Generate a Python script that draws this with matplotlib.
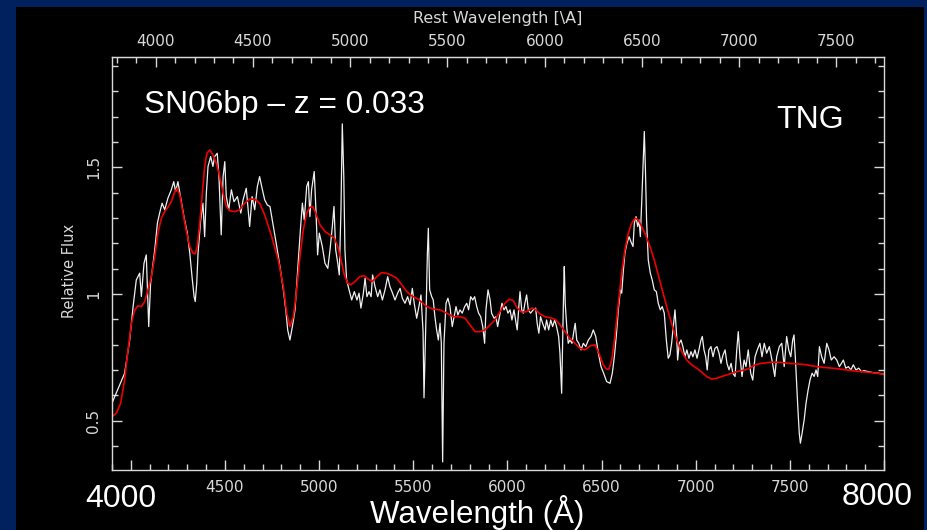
import matplotlib.pyplot as plt
from matplotlib.patches import Rectangle
from matplotlib.ticker import MultipleLocator, FixedLocator, FuncFormatter

z = 0.033

# observed spectrum (white)
obs_wave = [3900, 3967, 3994, 4012, 4029, 4047, 4056, 4070, 4082, 4095, 4105, 4127, 4141, 4153, 4166, 4180,
            4197, 4215, 4228, 4238, 4250, 4265, 4282, 4300, 4313, 4325, 4336, 4342, 4350, 4357, 4371, 4383,
            4392, 4401, 4410, 4424, 4436, 4445, 4459, 4468, 4480, 4490, 4499, 4507, 4520, 4534, 4548, 4566,
            4584, 4596, 4613, 4631, 4644, 4658, 4672, 4684, 4697, 4711, 4725, 4739, 4757, 4775, 4792, 4810,
            4823, 4833, 4845, 4858, 4872, 4886, 4898, 4911, 4921, 4934, 4943, 4951, 4960, 4974, 4983, 4992,
            5001, 5017, 5031, 5046, 5058, 5070, 5079, 5088, 5099, 5107, 5116, 5123, 5131, 5137, 5146, 5159,
            5173, 5187, 5201, 5212, 5222, 5235, 5244, 5254, 5265, 5276, 5284, 5297, 5311, 5323, 5336, 5350,
            5364, 5376, 5390, 5403, 5417, 5430, 5442, 5456, 5470, 5483, 5495, 5505, 5518, 5530, 5541, 5552,
            5557, 5568, 5575, 5580, 5587, 5598, 5606, 5615, 5624, 5633, 5642, 5649, 5656, 5663, 5674, 5684,
            5695, 5707, 5717, 5727, 5737, 5748, 5760, 5773, 5784, 5794, 5805, 5816, 5826, 5837, 5847, 5858,
            5869, 5879, 5886, 5897, 5908, 5916, 5929, 5939, 5948, 5961, 5971, 5982, 5992, 6003, 6014, 6024,
            6035, 6046, 6052, 6062, 6067, 6076, 6084, 6093, 6102, 6111, 6123, 6137, 6150, 6158, 6167, 6176,
            6187, 6200, 6208, 6219, 6230, 6240, 6251, 6261, 6272, 6279, 6288, 6293, 6299, 6302, 6307, 6315,
            6323, 6332, 6343, 6354, 6360, 6368, 6379, 6391, 6403, 6416, 6430, 6444, 6456, 6469, 6483, 6497,
            6511, 6527, 6545, 6557, 6568, 6578, 6589, 6600, 6607, 6616, 6624, 6635, 6646, 6656, 6667, 6674,
            6683, 6692, 6699, 6706, 6713, 6722, 6727, 6733, 6739, 6748, 6759, 6769, 6780, 6791, 6801, 6812,
            6822, 6833, 6844, 6854, 6863, 6872, 6881, 6890, 6899, 6904, 6913, 6922, 6932, 6943, 6953, 6964,
            6975, 6985, 6996, 7007, 7017, 7028, 7035, 7044, 7053, 7061, 7070, 7081, 7092, 7102, 7113, 7124,
            7134, 7145, 7156, 7166, 7177, 7188, 7197, 7209, 7218, 7226, 7235, 7246, 7257, 7267, 7279, 7292,
            7303, 7315, 7327, 7341, 7352, 7364, 7377, 7391, 7405, 7420, 7430, 7444, 7457, 7470, 7483, 7494,
            7505, 7515, 7522, 7529, 7536, 7543, 7550, 7556, 7565, 7576, 7586, 7597, 7607, 7618, 7629, 7639,
            7648, 7657, 7669, 7682, 7696, 7708, 7720, 7735, 7749, 7763, 7774, 7784, 7797, 7811, 7824, 7837,
            7851, 7866, 7880, 7894, 7917, 7944, 7970, 8000]
obs_flux = [0.569, 0.687, 0.818, 0.950, 1.055, 1.082, 0.990, 1.121, 1.154, 0.871, 1.042, 1.174, 1.279, 1.319, 1.358, 1.332,
            1.378, 1.411, 1.443, 1.404, 1.443, 1.378, 1.305, 1.240, 1.161, 1.068, 0.989, 0.970, 1.042, 1.161, 1.292, 1.358,
            1.226, 1.397, 1.503, 1.542, 1.503, 1.542, 1.555, 1.463, 1.233, 1.463, 1.522, 1.384, 1.332, 1.411, 1.364, 1.384,
            1.319, 1.371, 1.417, 1.266, 1.384, 1.332, 1.424, 1.463, 1.417, 1.371, 1.351, 1.345, 1.266, 1.187, 1.108, 1.016,
            0.937, 0.858, 0.818, 0.871, 0.937, 1.095, 1.226, 1.358, 1.292, 1.424, 1.443, 1.305, 1.411, 1.483, 1.332, 1.154,
            1.240, 1.187, 1.121, 1.101, 1.174, 1.266, 1.345, 1.174, 1.121, 1.075, 1.332, 1.671, 1.463, 1.174, 1.055, 1.016,
            0.976, 1.009, 0.976, 1.003, 0.944, 1.003, 1.062, 0.989, 1.009, 0.989, 1.075, 1.029, 0.989, 1.016, 0.976, 1.016,
            1.068, 1.029, 1.003, 0.976, 1.003, 1.022, 0.983, 0.963, 0.989, 0.957, 1.022, 0.963, 0.904, 0.950, 0.996, 0.851,
            0.590, 0.924, 1.161, 1.259, 1.016, 0.989, 0.976, 0.910, 0.858, 0.818, 0.884, 0.805, 0.337, 0.805, 0.963, 0.983,
            0.950, 0.871, 0.910, 0.950, 0.917, 0.937, 0.924, 0.950, 0.963, 0.937, 0.989, 0.976, 0.989, 0.950, 0.924, 0.910,
            0.871, 0.805, 0.937, 1.016, 0.976, 0.924, 0.904, 0.910, 0.871, 0.924, 0.963, 0.937, 0.950, 0.924, 0.937, 0.897,
            0.937, 0.884, 0.858, 0.963, 1.009, 0.937, 0.924, 0.963, 0.996, 0.937, 0.924, 0.937, 0.944, 0.884, 0.845, 0.910,
            0.884, 0.858, 0.897, 0.858, 0.897, 0.871, 0.897, 0.871, 0.832, 0.766, 0.608, 0.805, 1.029, 1.108, 0.963, 0.871,
            0.805, 0.818, 0.805, 0.858, 0.884, 0.818, 0.805, 0.779, 0.805, 0.792, 0.818, 0.832, 0.858, 0.832, 0.766, 0.713,
            0.687, 0.654, 0.647, 0.687, 0.752, 0.832, 0.937, 1.016, 1.003, 1.095, 1.161, 1.200, 1.226, 1.206, 1.187, 1.279,
            1.305, 1.266, 1.292, 1.226, 1.358, 1.542, 1.641, 1.490, 1.292, 1.134, 1.082, 1.055, 1.016, 1.009, 0.963, 0.937,
            0.950, 0.924, 0.818, 0.746, 0.759, 0.805, 0.871, 0.937, 0.832, 0.739, 0.805, 0.818, 0.792, 0.752, 0.779, 0.746,
            0.772, 0.752, 0.779, 0.746, 0.779, 0.818, 0.832, 0.779, 0.752, 0.700, 0.779, 0.792, 0.752, 0.785, 0.792, 0.766,
            0.726, 0.759, 0.779, 0.726, 0.700, 0.726, 0.687, 0.674, 0.779, 0.851, 0.752, 0.674, 0.739, 0.713, 0.779, 0.687,
            0.660, 0.752, 0.779, 0.805, 0.752, 0.805, 0.766, 0.792, 0.739, 0.674, 0.752, 0.792, 0.805, 0.713, 0.832, 0.779,
            0.752, 0.818, 0.838, 0.752, 0.647, 0.542, 0.450, 0.411, 0.450, 0.503, 0.569, 0.621, 0.660, 0.687, 0.674, 0.700,
            0.674, 0.792, 0.752, 0.726, 0.805, 0.779, 0.739, 0.752, 0.739, 0.713, 0.726, 0.739, 0.707, 0.713, 0.700, 0.720,
            0.700, 0.707, 0.693, 0.697, 0.693, 0.689, 0.687, 0.683]

# template fit (red)
fit_wave = [3900, 3923, 3946, 3967, 3985, 4003, 4021, 4038, 4056, 4074, 4091, 4109, 4127, 4144, 4162, 4180,
            4197, 4215, 4232, 4245, 4260, 4277, 4295, 4313, 4330, 4342, 4353, 4366, 4380, 4392, 4404, 4419,
            4436, 4454, 4472, 4490, 4507, 4525, 4552, 4578, 4605, 4631, 4658, 4684, 4711, 4748, 4783, 4810,
            4828, 4845, 4863, 4881, 4898, 4916, 4934, 4951, 4965, 4982, 5005, 5031, 5058, 5081, 5099, 5116,
            5134, 5152, 5169, 5190, 5217, 5240, 5261, 5282, 5306, 5332, 5354, 5382, 5412, 5439, 5465, 5492,
            5527, 5571, 5606, 5642, 5677, 5713, 5748, 5775, 5801, 5828, 5854, 5881, 5908, 5934, 5961, 5987,
            6010, 6031, 6052, 6076, 6102, 6129, 6147, 6173, 6200, 6226, 6253, 6279, 6306, 6332, 6359, 6385,
            6412, 6439, 6465, 6486, 6509, 6527, 6539, 6554, 6571, 6589, 6607, 6624, 6642, 6660, 6678, 6695,
            6713, 6734, 6757, 6780, 6801, 6822, 6846, 6872, 6899, 6926, 6952, 6979, 7005, 7032, 7058, 7085,
            7111, 7138, 7164, 7191, 7218, 7262, 7288, 7315, 7350, 7395, 7448, 7492, 7536, 7589, 7642, 7696,
            7749, 7802, 7855, 7908, 7961, 8000]
fit_flux = [0.516, 0.529, 0.569, 0.660, 0.779, 0.884, 0.937, 0.953, 0.950, 0.970, 1.016, 1.068, 1.147, 1.240, 1.299, 1.325,
            1.342, 1.364, 1.400, 1.417, 1.391, 1.319, 1.246, 1.187, 1.161, 1.158, 1.187, 1.279, 1.397, 1.503, 1.555, 1.568,
            1.549, 1.516, 1.463, 1.397, 1.345, 1.328, 1.325, 1.332, 1.358, 1.374, 1.374, 1.358, 1.312, 1.226, 1.134, 1.029,
            0.924, 0.871, 0.910, 1.016, 1.147, 1.253, 1.319, 1.342, 1.345, 1.319, 1.272, 1.246, 1.233, 1.220, 1.187, 1.134,
            1.075, 1.042, 1.036, 1.049, 1.068, 1.072, 1.058, 1.049, 1.068, 1.084, 1.082, 1.075, 1.062, 1.036, 1.009, 0.992,
            0.979, 0.950, 0.940, 0.937, 0.924, 0.910, 0.910, 0.904, 0.878, 0.851, 0.851, 0.858, 0.878, 0.897, 0.930, 0.963,
            0.979, 0.974, 0.944, 0.928, 0.930, 0.944, 0.940, 0.921, 0.910, 0.906, 0.900, 0.878, 0.851, 0.825, 0.805, 0.785,
            0.779, 0.795, 0.799, 0.766, 0.720, 0.703, 0.703, 0.739, 0.832, 0.963, 1.082, 1.174, 1.240, 1.279, 1.299, 1.292,
            1.266, 1.233, 1.187, 1.134, 1.075, 1.016, 0.950, 0.884, 0.818, 0.772, 0.739, 0.720, 0.707, 0.691, 0.674, 0.664,
            0.667, 0.674, 0.680, 0.687, 0.693, 0.700, 0.707, 0.720, 0.726, 0.730, 0.730, 0.726, 0.724, 0.720, 0.713, 0.709,
            0.705, 0.700, 0.695, 0.691, 0.687, 0.683]

fg = '#d8d8d8'
arial = ['Liberation Sans', 'DejaVu Sans']

fig = plt.figure(figsize=(9.28, 5.3), dpi=100, facecolor='#00215e')
# black slide panel, behind everything else
fig.patches.append(Rectangle((16 / 928, 0), 908 / 928, 523 / 530, transform=fig.transFigure,
                             facecolor='black', edgecolor='none', zorder=-10))

ax = fig.add_axes([112 / 928, 60 / 530, 772 / 928, 413 / 530])
ax.set_facecolor('black')
ax.set_zorder(1)
ax.plot(obs_wave, obs_flux, color='#f0f0f0', lw=0.9)
ax.plot(fit_wave, fit_flux, color='#ee0000', lw=1.2)

ax.set_xlim(3900, 8000)
ax.set_ylim(0.305, 1.935)

for s in ax.spines.values():
    s.set_color(fg)
    s.set_linewidth(1.0)

ax.xaxis.set_major_locator(MultipleLocator(500))
ax.xaxis.set_minor_locator(MultipleLocator(100))
ax.xaxis.set_major_formatter(FuncFormatter(lambda v, p: '' if v < 4400 or v > 7600 else '%d' % v))
ax.yaxis.set_major_locator(FixedLocator([0.5, 1.0, 1.5]))
ax.yaxis.set_minor_locator(MultipleLocator(0.1))
ax.yaxis.set_major_formatter(FuncFormatter(lambda v, p: '%g' % v))

ax.tick_params(which='both', direction='in', colors=fg, labelcolor=fg, width=1.0,
               bottom=True, left=True, right=True, top=False, labelsize=11)
ax.tick_params(which='major', length=7)
ax.tick_params(which='minor', length=4)
ax.tick_params(axis='x', pad=7)
ax.tick_params(axis='y', pad=8, labelrotation=90)
for t in ax.get_yticklabels():
    t.set_va('center')

# rest-frame wavelength axis on top
top = ax.secondary_xaxis('top', functions=(lambda w: w / (1 + z), lambda r: r * (1 + z)))
top.xaxis.set_major_locator(FixedLocator([4000, 4500, 5000, 5500, 6000, 6500, 7000, 7500]))
top.xaxis.set_minor_locator(MultipleLocator(100))
top.xaxis.set_major_formatter(FuncFormatter(lambda v, p: '%d' % v))
top.tick_params(which='both', direction='in', colors=fg, labelcolor=fg, width=1.0, labelsize=11, pad=6)
top.tick_params(which='major', length=7)
top.tick_params(which='minor', length=4)
top.spines['top'].set_color(fg)

fig.text(498 / 928, 1 - 18 / 530, r'Rest Wavelength [\A]', color=fg, fontsize=11.5,
         ha='center', va='center')
fig.text(70 / 928, 1 - 271 / 530, 'Relative Flux', color=fg, fontsize=10.5,
         rotation=90, ha='center', va='center')

# slide annotations
fig.text(144 / 928, 1 - 113 / 530, 'SN06bp \u2013 z = 0.033', color='white', fontsize=22.8,
         family=arial, ha='left', va='baseline', zorder=3)
fig.text(776 / 928, 1 - 128 / 530, 'TNG', color='white', fontsize=23,
         family=arial, ha='left', va='baseline', zorder=3)
fig.text(121 / 928, 1 - 499 / 530, '4000', color='white', fontsize=23,
         family=arial, ha='center', va='center')
fig.text(877 / 928, 1 - 497 / 530, '8000', color='white', fontsize=23,
         family=arial, ha='center', va='center')
fig.text(477 / 928, 1 - 512 / 530, 'Wavelength (\u00c5)', color='white', fontsize=22.5,
         family=arial, ha='center', va='center')

fig.savefig('out.png', dpi=100, facecolor=fig.get_facecolor())
